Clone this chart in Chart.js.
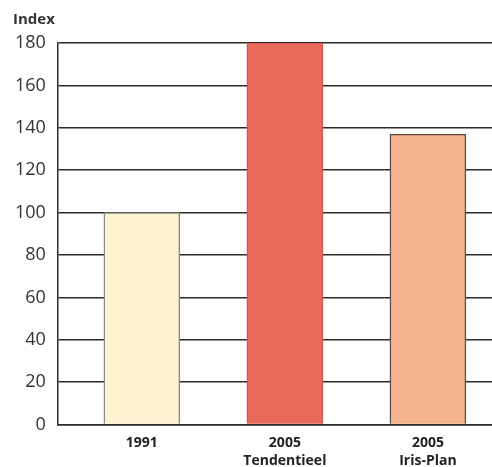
<!DOCTYPE html>
<html>
<head>
<meta charset="utf-8">
<script src="https://cdn.jsdelivr.net/npm/chart.js@4"></script>
<style>
  html, body { margin: 0; padding: 0; background: #fff; overflow: hidden; }
  #wrap { width: 492px; height: 479px; position: relative; }
</style>
</head>
<body>
<div id="wrap"><canvas id="chart"></canvas></div>
<script>
// categories (multi-line labels) and index values
const categories = [["1991"], ["2005", "Tendentieel"], ["2005", "Iris-Plan"]];
const indexValues = [100, 180, 137];
const yTicks = [0, 20, 40, 60, 80, 100, 120, 140, 160, 180];

const barColors = ["#fbf3d0", "#e9695b", "#f5b48e"];
const barBorders = ["#8a8a80", "#d9544a", "#5e4c40"];

// nudge the "Index" title to the right, like in the source
const titleShift = {
  id: "titleShift",
  afterLayout(chart) {
    if (chart.titleBlock) chart.titleBlock.left += 10;
  },
};

const ctx = document.getElementById("chart").getContext("2d");

new Chart(ctx, {
  type: "bar",
  data: {
    datasets: [
      {
        label: "Index",
        data: indexValues.map((v, i) => ({ x: i, y: v })),
        backgroundColor: barColors,
        borderColor: barBorders,
        borderWidth: 1.5,
        barThickness: 76,
      },
    ],
  },
  plugins: [titleShift],
  options: {
    responsive: true,
    maintainAspectRatio: false,
    animation: false,
    layout: { padding: { left: 3, right: 0, top: 0, bottom: 0 } },
    plugins: {
      legend: { display: false },
      tooltip: { enabled: false },
      title: {
        display: true,
        text: "Index",
        align: "start",
        color: "#333",
        font: { family: "Open Sans", size: 15, weight: "bold" },
        padding: { top: 11, bottom: 14 },
      },
    },
    scales: {
      x: {
        type: "linear",
        offset: false,
        min: -0.587,
        max: 2.448,
        afterBuildTicks: (scale) => {
          scale.ticks = categories.map((_, i) => ({ value: i }));
        },
        ticks: {
          color: "#222",
          font: { family: "Open Sans", size: 14, weight: "bold", lineHeight: 1.3 },
          padding: 9,
          maxRotation: 0,
          autoSkip: false,
          callback: (v) => categories[v],
        },
        grid: { color: "rgba(0,0,0,0)", drawTicks: false, offset: false },
        border: { display: true, color: "#2b2b2b", width: 1.5 },
      },
      y: {
        min: 0,
        max: 180,
        afterBuildTicks: (scale) => {
          scale.ticks = yTicks.map((v) => ({ value: v }));
        },
        ticks: {
          color: "#333",
          font: { family: "Open Sans", size: 18 },
          padding: 12,
        },
        grid: { color: "#2b2b2b", lineWidth: 1.5, drawTicks: false },
        border: { display: true, color: "#2b2b2b", width: 1.5 },
      },
    },
  },
});
</script>
</body>
</html>
